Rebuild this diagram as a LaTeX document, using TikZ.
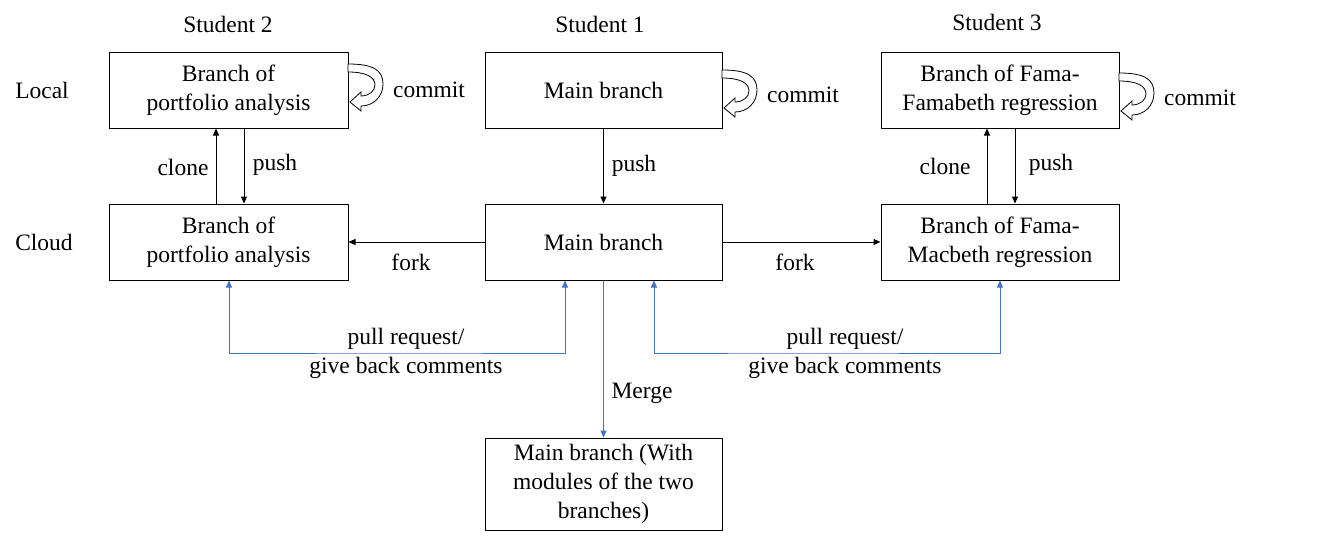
\documentclass[tikz,border=0pt]{standalone}
\usepackage{fontspec}
\setmainfont{Liberation Serif}
\usetikzlibrary{arrows.meta}
\definecolor{pblue}{RGB}{68,114,196}
\begin{document}
\begin{tikzpicture}[x=1pt,y=-1pt,
  box/.style={draw,line width=1pt,align=center,inner sep=0pt,font=\fontsize{23.5}{29}\selectfont},
  lbl/.style={inner sep=0pt,font=\fontsize{23.5}{29}\selectfont,align=center},
  arr/.style={line width=1pt,-{Triangle[width=6pt,length=7pt]}},
  barr/.style={line width=1pt,draw=pblue,{Triangle[width=6pt,length=7pt]}-{Triangle[width=6pt,length=7pt]}},
  marr/.style={line width=1pt,draw=pblue,-{Triangle[width=6pt,length=7pt]}},
  commitshape/.style={draw,fill=white,line width=0.8pt}]
\useasboundingbox (0,0) rectangle (1317,543);
% boxes
\node[box,minimum width=239pt,minimum height=75pt] (s2l) at (228.5,90.5) {Branch of\\portfolio analysis};
\node[box,minimum width=237pt,minimum height=75pt] (s1l) at (603.5,90.5) {Main branch};
\node[box,minimum width=238pt,minimum height=75pt] (s3l) at (1000,90.5) {Branch of Fama-\\Famabeth regression};
\node[box,minimum width=239pt,minimum height=76pt] (s2c) at (228.5,242) {Branch of\\portfolio analysis};
\node[box,minimum width=237pt,minimum height=76pt] (s1c) at (603.5,242) {Main branch};
\node[box,minimum width=238pt,minimum height=76pt] (s3c) at (1000,242) {Branch of Fama-\\Macbeth regression};
\node[box,minimum width=237pt,minimum height=92pt] (mb) at (603.5,484) {Main branch (With\\modules of the two\\branches)};
% headers
\node[lbl] (h2) at (228,24) {Student 2};
\node[lbl] (h1) at (600,24) {Student 1};
\node[lbl] (h3) at (997,22) {Student 3};
\node[lbl] (hl) at (42,90) {Local};
\node[lbl] (hc) at (44,242) {Cloud};
% clone / push
\draw[arr] ([xshift=-12.5pt]s2c.north) -- ([xshift=-12.5pt]s2l.south);
\draw[arr] ([xshift=15.5pt]s2l.south) -- ([xshift=15.5pt]s2c.north);
\node[lbl] (cl2) at (183,167) {clone};
\node[lbl] (pu2) at (275,165) {push};
\draw[arr] (s1l.south) -- (s1c.north);
\node[lbl] (pu1) at (634,166) {push};
\draw[arr] ([xshift=-13pt]s3c.north) -- ([xshift=-13pt]s3l.south);
\draw[arr] ([xshift=15pt]s3l.south) -- ([xshift=15pt]s3c.north);
\node[lbl] (cl3) at (945,166) {clone};
\node[lbl] (pu3) at (1051,165) {push};
% fork
\draw[arr] (s1c.west) -- (s2c.east);
\draw[arr] (s1c.east) -- (s3c.west);
\node[lbl] (f2) at (411,262) {fork};
\node[lbl] (f3) at (795,262) {fork};
% pull requests
\coordinate (pl) at (400,353);
\coordinate (pr) at (800,353);
\draw[barr] ([xshift=0.5pt]s2c.south) |- (pl) -| ([xshift=-38.5pt]s1c.south);
\draw[barr] ([xshift=50.5pt]s1c.south) |- (pr) -| (s3c.south);
\node[lbl] (pr2) at (406,353) {pull request/\\give back comments};
\node[lbl] (pr3) at (845,353) {pull request/\\give back comments};
% merge
\draw[marr] (s1c.south) -- (mb.north);
\node[lbl] (mg) at (642,393) {Merge};
% commit arrows
\foreach \X/\Y in {348/64, 722/70, 1119/73}{
  \begin{scope}[shift={(\X,\Y)}]
  \draw[commitshape] (0,0) .. controls (25,0) and (35,6) .. (35,20)
     .. controls (35,33) and (25,42) .. (13,42) -- (13,47) -- (2,38) -- (13,28) -- (13,32)
     .. controls (21,32) and (27,27) .. (27,21) .. controls (27,13) and (18,8) .. (0,8) -- cycle;
  \end{scope}
}
\node[lbl] (c2) at (429,90) {commit};
\node[lbl] (c1) at (803,95) {commit};
\node[lbl] (c3) at (1200,98) {commit};
\end{tikzpicture}
\end{document}
